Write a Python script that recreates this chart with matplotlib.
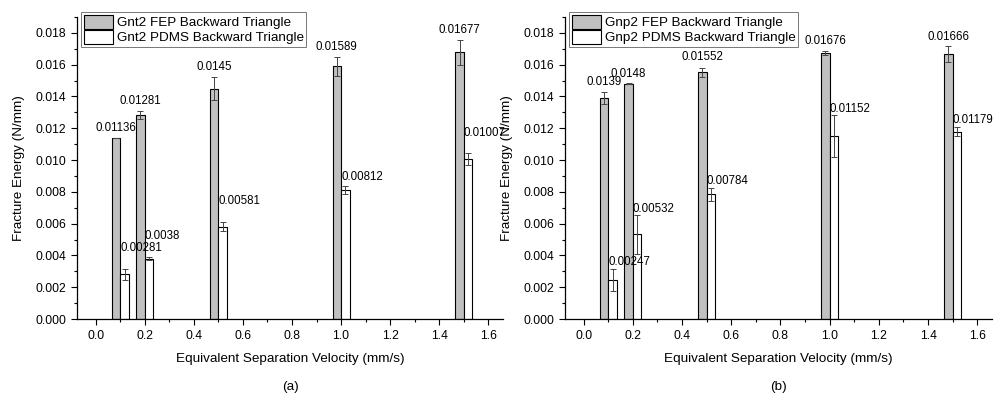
import numpy as np
import matplotlib.pyplot as plt
from matplotlib.ticker import MultipleLocator

### Data
velocity = [0.1, 0.2, 0.5, 1.0, 1.5]

gnt2_fep = [0.01136, 0.01281, 0.0145, 0.01589, 0.01677]
gnt2_fep_err = [0.0, 0.00025, 0.0007, 0.0006, 0.0008]
gnt2_pdms = [0.00281, 0.0038, 0.00581, 0.00812, 0.01007]
gnt2_pdms_err = [0.00035, 0.0001, 0.0003, 0.00025, 0.00035]

gnp2_fep = [0.0139, 0.0148, 0.01552, 0.01676, 0.01666]
gnp2_fep_err = [0.0004, 0.00003, 0.0003, 0.00012, 0.0005]
gnp2_pdms = [0.00247, 0.00532, 0.00784, 0.01152, 0.01179]
gnp2_pdms_err = [0.0007, 0.0012, 0.0004, 0.0013, 0.0003]

labels_a = ['0.01136', '0.01281', '0.0145', '0.01589', '0.01677']
labels_a2 = ['0.00281', '0.0038', '0.00581', '0.00812', '0.01007']
labels_b = ['0.0139', '0.0148', '0.01552', '0.01676', '0.01666']
labels_b2 = ['0.00247', '0.00532', '0.00784', '0.01152', '0.01179']

### Label offsets above error bar top (points)
off_a = [3, 3, 3, 3, 3]
off_a2 = [10.5, 10.5, 10.5, 2.5, 10.5]
off_b = [2.5, 2.5, 3, 2.5, 2.5]
off_b2 = [0.5, 0.5, 0.5, 0.5, 0.5]

plt.rcParams['font.family'] = ['Liberation Sans', 'DejaVu Sans']

fig = plt.figure(figsize=(9.94, 3.96), dpi=100)
ax1 = fig.add_axes([0.0775, 0.1944, 0.4286, 0.7626])
ax2 = fig.add_axes([0.5684, 0.1944, 0.4296, 0.7626])

width = 0.035
ekw = dict(ecolor='#444444', elinewidth=0.7, capsize=2.2, capthick=0.7)

def draw(ax, fep, fep_err, pdms, pdms_err, name, lab1, lab2, off1, off2, tag):
    x = np.array(velocity)
    ax.bar(x, fep, width=-width, align='edge', color='#c0c0c0',
           edgecolor='black', linewidth=0.8, zorder=2,
           label=name + ' FEP Backward Triangle')
    ax.bar(x, pdms, width=width, align='edge', color='white',
           edgecolor='black', linewidth=0.8, zorder=2,
           label=name + ' PDMS Backward Triangle')
    ax.errorbar(x - width / 2, fep, yerr=fep_err, fmt='none', zorder=3, **ekw)
    ax.errorbar(x + width / 2, pdms, yerr=pdms_err, fmt='none', zorder=3, **ekw)

    for i in range(len(x)):
        ax.annotate(lab1[i], (x[i] - width / 2, fep[i] + fep_err[i]),
                    xytext=(0, off1[i]), textcoords='offset points',
                    ha='center', va='bottom', fontsize=8.3)
        ax.annotate(lab2[i], (x[i], pdms[i] + pdms_err[i]),
                    xytext=(0, off2[i]), textcoords='offset points',
                    ha='left', va='bottom', fontsize=8.3)

    ax.set_xlim(-0.076, 1.66)
    ax.set_ylim(0, 0.019)
    ax.xaxis.set_major_locator(MultipleLocator(0.2))
    ax.xaxis.set_minor_locator(MultipleLocator(0.1))
    ax.yaxis.set_major_locator(MultipleLocator(0.002))
    ax.yaxis.set_minor_locator(MultipleLocator(0.001))
    ax.xaxis.set_major_formatter(plt.FuncFormatter(lambda v, p: '%.1f' % v))
    ax.yaxis.set_major_formatter(plt.FuncFormatter(lambda v, p: '%.3f' % v))
    ax.tick_params('both', which='major', length=4.5, width=0.8,
                   labelsize=8.7, direction='out')
    ax.tick_params('both', which='minor', length=2.2, width=0.8, direction='out')
    ax.spines['top'].set_visible(False)
    ax.spines['right'].set_visible(False)
    ax.spines['left'].set_linewidth(0.9)
    ax.spines['bottom'].set_linewidth(0.9)

    ax.set_xlabel('Equivalent Separation Velocity (mm/s)', fontsize=9.7,
                  labelpad=8)
    ax.set_ylabel('Fracture Energy (N/mm)', fontsize=9.7, labelpad=7)
    le = ax.legend(loc='upper left', bbox_to_anchor=(0.0, 1.03),
                   fontsize=9.7, frameon=True, fancybox=False,
                   borderpad=0.2, labelspacing=0.05, handlelength=2.2,
                   handleheight=1.2, handletextpad=0.25, borderaxespad=0.3)
    le.get_frame().set_edgecolor('#555555')
    le.get_frame().set_linewidth(0.7)
    ax.text(0.5, -0.225, tag, transform=ax.transAxes, ha='center',
            va='center', fontsize=9.7)

draw(ax1, gnt2_fep, gnt2_fep_err, gnt2_pdms, gnt2_pdms_err, 'Gnt2',
     labels_a, labels_a2, off_a, off_a2, '(a)')
draw(ax2, gnp2_fep, gnp2_fep_err, gnp2_pdms, gnp2_pdms_err, 'Gnp2',
     labels_b, labels_b2, off_b, off_b2, '(b)')

plt.savefig('out.png', dpi=100)
